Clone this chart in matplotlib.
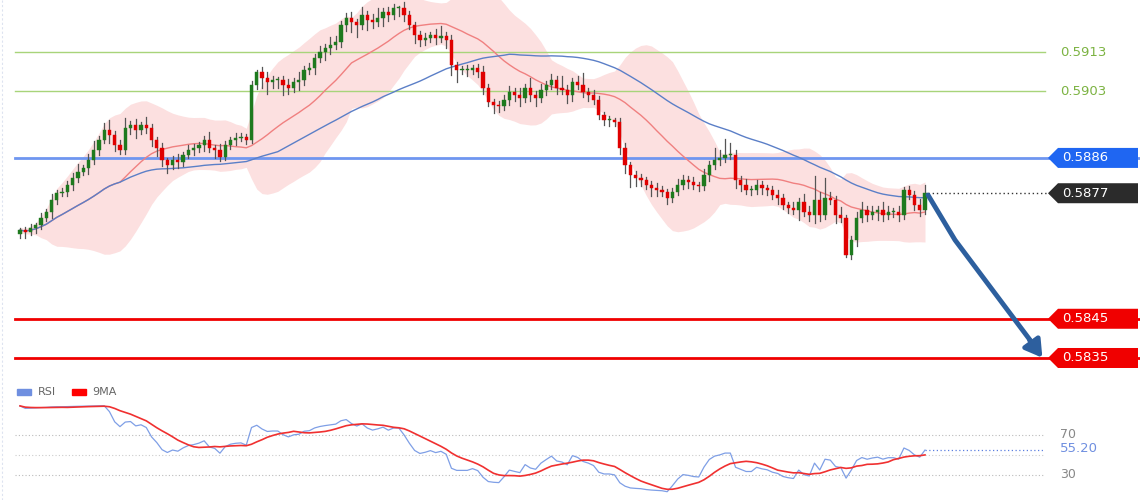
import numpy as np
import pandas as pd
import matplotlib
matplotlib.use("Agg")
import matplotlib.pyplot as plt
from matplotlib.patches import Polygon, Rectangle

closes_pips = [
 5867.6, 5867.1, 5868.1, 5868.9, 5870.7, 5872.2, 5875.3, 5877.0, 5877.3, 5879.1,
 5880.9, 5882.4, 5883.4, 5885.5, 5888.0, 5890.6, 5893.1, 5891.8, 5889.3, 5888.0,
 5893.6, 5894.4, 5893.1, 5894.4, 5893.6, 5890.6, 5888.5, 5885.5, 5884.2, 5885.5,
 5885.0, 5886.7, 5888.0, 5888.5, 5889.3, 5890.6, 5888.5, 5888.0, 5886.2, 5889.3,
 5890.6, 5891.1, 5891.3, 5890.6, 5904.6, 5907.9, 5906.4, 5905.4, 5905.9, 5905.9,
 5904.6, 5903.8, 5905.4, 5905.9, 5908.4, 5908.9, 5911.5, 5913.0, 5914.0, 5914.8,
 5915.6, 5919.9, 5921.7, 5920.6, 5919.9, 5922.4, 5921.2, 5920.6, 5921.7, 5923.2,
 5922.4, 5924.2, 5924.2, 5922.4, 5919.9, 5917.3, 5916.1, 5916.6, 5917.3, 5916.6,
 5917.1, 5916.1, 5909.7, 5908.4, 5908.4, 5908.4, 5908.9, 5907.9, 5903.8, 5900.2,
 5899.5, 5899.2, 5900.8, 5902.8, 5902.0, 5901.3, 5903.8, 5902.0, 5901.3, 5903.3,
 5904.6, 5905.9, 5903.8, 5903.3, 5902.0, 5905.4, 5904.6, 5902.8, 5902.0, 5900.8,
 5896.9, 5895.7, 5895.7, 5895.1, 5888.5, 5884.2, 5881.6, 5880.9, 5880.4, 5879.1,
 5878.3, 5877.8, 5877.3, 5875.8, 5877.3, 5879.1, 5880.4, 5879.9, 5879.1, 5878.8,
 5881.6, 5884.2, 5885.5, 5886.0, 5886.7, 5886.7, 5880.4, 5879.1, 5877.8, 5877.8,
 5879.1, 5878.3, 5877.8, 5876.5, 5875.8, 5874.0, 5873.2, 5872.7, 5874.8, 5872.2,
 5871.4, 5875.3, 5871.4, 5875.8, 5875.3, 5871.4, 5870.7, 5861.2, 5865.1, 5870.7,
 5872.7, 5871.4, 5872.2, 5872.7, 5871.4, 5872.2, 5872.2, 5871.4, 5877.8, 5876.5,
 5874.0, 5872.7, 5877.0,
]
first_open_pips = 5866.5
upper_wick = [
 0.5, 0.8, 1.0, 0.6, 1.2, 0.8, 1.5, 0.7, 1.0, 0.9,
 1.2, 2.0, 0.8, 1.5, 2.2, 1.0, 1.8, 2.5, 1.0, 1.2,
 2.5, 1.0, 1.5, 0.8, 2.0, 1.0, 0.8, 1.2, 0.6, 1.0,
 1.5, 0.8, 1.2, 1.0, 0.8, 1.0, 2.0, 0.9, 1.5, 1.0,
 0.8, 1.2, 1.0, 0.8, 1.0, 0.6, 1.2, 1.5, 1.0, 0.8,
 1.0, 1.5, 1.0, 2.0, 1.0, 1.2, 1.0, 1.5, 1.0, 2.0,
 1.5, 1.0, 1.2, 1.5, 0.8, 2.0, 1.0, 1.5, 2.5, 1.0,
 1.2, 1.0, 0.5, 1.5, 1.0, 0.8, 1.0, 1.2, 0.8, 1.5,
 2.5, 1.0, 1.2, 0.8, 1.0, 1.2, 0.8, 1.0, 1.5, 1.0,
 0.8, 1.0, 1.2, 1.5, 1.0, 1.8, 1.0, 2.5, 1.0, 1.5,
 1.0, 1.5, 1.0, 3.0, 1.2, 1.0, 1.5, 3.0, 1.0, 1.2,
 1.0, 0.8, 1.0, 0.6, 1.0, 1.2, 0.8, 1.0, 1.0, 0.8,
 1.0, 1.2, 1.0, 0.8, 1.0, 1.5, 1.2, 1.0, 1.2, 0.8,
 1.5, 1.0, 3.0, 2.0, 4.0, 3.0, 1.2, 1.0, 1.5, 1.0,
 1.2, 1.0, 0.8, 1.0, 1.2, 1.0, 0.8, 1.5, 1.0, 2.0,
 1.5, 6.0, 2.0, 5.0, 1.5, 1.0, 2.0, 0.8, 1.0, 1.5,
 2.0, 1.0, 1.5, 1.0, 2.0, 1.5, 1.0, 1.5, 0.8, 1.0,
 1.0, 1.5, 2.0,
]
lower_wick = [
 1.0, 1.5, 0.8, 1.2, 1.0, 0.8, 1.5, 1.0, 0.8, 1.0,
 1.2, 1.0, 0.8, 1.5, 1.0, 1.2, 0.8, 2.0, 1.5, 1.0,
 1.0, 1.5, 2.0, 1.0, 1.2, 1.5, 2.0, 1.5, 2.0, 1.0,
 1.5, 1.0, 0.8, 1.2, 1.0, 1.5, 1.0, 2.0, 1.0, 0.8,
 1.0, 1.2, 0.8, 1.0, 0.8, 1.0, 2.5, 3.0, 1.5, 2.0,
 2.5, 1.5, 1.0, 2.0, 1.2, 1.0, 1.5, 1.0, 2.0, 1.5,
 1.0, 1.2, 1.5, 2.5, 3.0, 1.0, 2.5, 1.5, 1.0, 2.0,
 1.5, 1.0, 2.0, 1.5, 1.0, 2.0, 1.5, 1.2, 1.0, 1.5,
 1.0, 2.0, 2.5, 3.0, 1.0, 1.5, 1.0, 1.2, 1.5, 1.0,
 2.0, 1.5, 1.0, 1.2, 1.5, 2.0, 1.0, 1.5, 2.0, 1.0,
 1.2, 1.0, 1.5, 1.0, 2.0, 1.5, 1.0, 1.2, 1.5, 1.0,
 1.0, 1.2, 1.5, 1.0, 1.5, 2.0, 3.0, 2.0, 1.5, 1.0,
 2.0, 1.5, 1.0, 1.5, 1.0, 0.8, 1.0, 1.5, 1.0, 1.2,
 1.0, 1.5, 1.0, 1.2, 1.0, 1.0, 2.0, 1.5, 1.0, 1.2,
 1.0, 1.5, 1.2, 1.0, 1.5, 1.0, 1.2, 1.0, 2.5, 1.0,
 1.5, 2.0, 1.5, 1.0, 1.0, 2.0, 1.0, 0.5, 1.0, 1.5,
 1.0, 1.5, 1.0, 2.0, 1.5, 1.0, 1.2, 1.5, 1.0, 1.0,
 1.2, 1.5, 1.0,
]

green_levels = [0.5913, 0.5903]
pivot_level = 0.5886
last_level = 0.5877
support_levels = [0.5845, 0.5835]
rsi_last_label = "55.20"

closes = np.array(closes_pips) / 1e4
opens = np.concatenate([[first_open_pips / 1e4], closes[:-1]])
highs = np.maximum(opens, closes) + np.array(upper_wick) / 1e4
lows = np.minimum(opens, closes) - np.array(lower_wick) / 1e4
N = len(closes)
idx = np.arange(N)

s = pd.Series(closes)
ma20 = s.rolling(20, min_periods=1).mean()
sd20 = s.rolling(20, min_periods=2).std().bfill()
ma50 = s.rolling(50, min_periods=1).mean()
delta = pd.Series(closes - opens)
up = delta.clip(lower=0).ewm(alpha=1/14, adjust=False).mean()
dn = (-delta.clip(upper=0)).ewm(alpha=1/14, adjust=False).mean()
rsi = 100 - 100 / (1 + up / dn.clip(lower=1e-6))
rsi_ma = rsi.rolling(9, min_periods=1).mean()

W, H = 1140, 500
fig = plt.figure(figsize=(W/100, H/100), dpi=100)
fig.patch.set_facecolor("white")

step = 905 / (N - 1)
def px2i(px):
    return (px - 20) / step
def y2p(y):
    return 0.5913 - (y - 52) / 39230.0

ax = fig.add_axes([0, 125/H, 1, 375/H])
ax.set_xlim(px2i(0), px2i(W))
ax.set_ylim(y2p(375), y2p(0))
ax.axis("off")

ax.fill_between(idx, ma20 - 2*sd20, ma20 + 2*sd20, color="#fbd3d3", alpha=0.7, lw=0, zorder=1)
ax.plot(idx, ma20, color="#f08080", lw=1, zorder=2)
ax.plot(idx, ma50, color="#5b7fc7", lw=1, zorder=2)

x_line_l, x_line_r = px2i(15), px2i(1045)
for g in green_levels:
    ax.plot([x_line_l, x_line_r], [g, g], color="#a8d47a", lw=1, zorder=1.5)
ax.plot([x_line_l, px2i(1140)], [pivot_level]*2, color="#6f96f0", lw=2, zorder=1.5)
for lv in support_levels:
    ax.plot([x_line_l, px2i(1140)], [lv]*2, color="#f00000", lw=2, zorder=1.5)

bw = 0.62
for i in range(N):
    col = "#1e7a1e" if closes[i] >= opens[i] else "#e00000"
    ax.plot([i, i], [lows[i], highs[i]], color="#555555", lw=0.9, zorder=3)
    b = min(opens[i], closes[i]); h = max(abs(closes[i]-opens[i]), 0.00003)
    ax.add_patch(Rectangle((i - bw/2, b), bw, h, facecolor=col, edgecolor=col, lw=0.3, zorder=4))

ax.plot([N - 1 + 0.5, px2i(1050)], [last_level]*2, color="#333333", lw=1, ls=(0, (1, 2)), zorder=3)

# RSI panel
ax2 = fig.add_axes([0, 0, 1, 125/H])
ax2.set_xlim(px2i(0), px2i(W))
ax2.set_ylim(70 - (500 - 435), 70 - (375 - 435))
ax2.axis("off")
for lv, c in [(70, "#bbbbbb"), (50, "#cccccc"), (30, "#bbbbbb")]:
    ax2.plot([x_line_l, x_line_r], [lv, lv], color=c, lw=0.8, ls=(0, (1, 2)))
ax2.plot(idx, rsi, color="#7f9fe6", lw=0.9)
ax2.plot(idx, rsi_ma, color="#f03030", lw=1.2)
ax2.plot([N - 1, px2i(1045)], [rsi.iloc[-1]]*2, color="#5b7fe0", lw=0.9, ls=(0, (1, 2)))

# overlay in pixel coordinates
ov = fig.add_axes([0, 0, 1, 1], facecolor="none")
ov.set_xlim(0, W); ov.set_ylim(H, 0); ov.axis("off")

def p2y(p):
    return 52 + (0.5913 - p) * 39230.0

for g in green_levels:
    ov.text(1060, p2y(g), f"{g:.4f}", color="#7cb342", fontsize=9.5, va="center")

def tag(level, face):
    y = p2y(level)
    ov.add_patch(Polygon([[1048, y], [1058, y-10], [1138, y-10], [1138, y+10], [1058, y+10]],
                         closed=True, facecolor=face, edgecolor="none", zorder=5))
    ov.text(1062, y, f"{level:.4f}", color="white", fontsize=9.5, va="center", zorder=6)

tag(pivot_level, "#1f66f2")
tag(last_level, "#2b2b2b")
for lv in support_levels:
    tag(lv, "#f00000")

# forecast arrow
ov.plot([928, 955, 1030], [195, 240, 340], color="#2d5f9e", lw=3.5, solid_capstyle="round", zorder=6)
ov.annotate("", xy=(1044, 360), xytext=(1028, 338),
            arrowprops=dict(arrowstyle="-|>,head_width=0.6,head_length=1.0", color="#2d5f9e", lw=3.5), zorder=6)

# RSI legend & labels
ov.add_patch(Rectangle((17, 389), 14, 6, color="#6f8fe0"))
ov.text(38, 392, "RSI", fontsize=8, color="#666666", va="center")
ov.add_patch(Rectangle((72, 389), 14, 6, color="#ff0000"))
ov.text(92, 392, "9MA", fontsize=8, color="#666666", va="center")
ov.text(1060, 435, "70", fontsize=9, color="#888888", va="center")
ov.text(1060, 475, "30", fontsize=9, color="#888888", va="center")
ov.text(1060, 449, rsi_last_label, fontsize=9.5, color="#6f8fe0", va="center")
ov.plot([2, 2], [0, 500], color="#dde3f0", lw=0.8, ls=(0, (2, 2)))

fig.savefig("out.png", dpi=100)
